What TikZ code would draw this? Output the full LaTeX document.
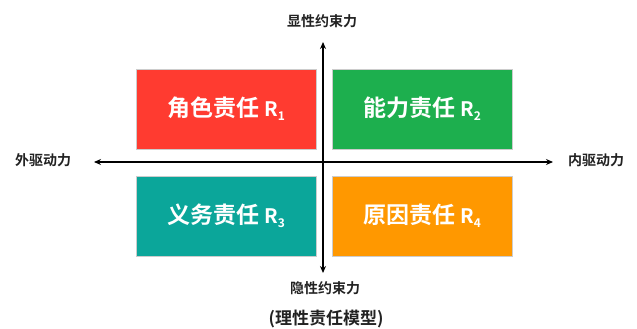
\documentclass[tikz,border=0pt]{standalone}
\usepackage{fontspec}
\usetikzlibrary{arrows.meta}
\newfontfamily\cjk{Noto Sans CJK SC}
\newfontfamily\cjkb{Noto Sans CJK SC Bold}
\definecolor{cred}{HTML}{FF3B30}
\definecolor{cgreen}{HTML}{1DAF4E}
\definecolor{cteal}{HTML}{0BA69A}
\definecolor{corange}{HTML}{FF9800}
\definecolor{ctext}{HTML}{222222}
\newcommand{\rsub}[1]{\raisebox{-0.3ex}{\fontsize{12}{13}\selectfont #1}}
\begin{document}
\begin{tikzpicture}[x=1pt,y=-1pt,
  quad/.style={draw=black!20,line width=0.6pt,minimum width=180pt,minimum height=80pt,inner sep=0pt,text=white,font=\cjkb\fontsize{23}{25}\selectfont},
  axlabel/.style={text=ctext,font=\cjkb\fontsize{14}{16}\selectfont,inner sep=0pt},
  axis/.style={line width=1.2pt,-{Stealth[length=7pt,width=6pt]}}]
\useasboundingbox (0,0) rectangle (637,329);
\fill[white] (0,0) rectangle (637,329);
\coordinate (o) at (323,162);
\coordinate (top) at (323,42);
\coordinate (bot) at (323,273);
\coordinate (lft) at (94,162);
\coordinate (rgt) at (553,162);
\draw[axis] (o) -- (top);
\draw[axis] (o) -- (bot);
\draw[axis] (o) -- (lft);
\draw[axis] (o) -- (rgt);
\node[quad,fill=cred] (r1) at (226,109) {角色责任 {\fontsize{20}{22}\selectfont R}\rsub{1}};
\node[quad,fill=cgreen] (r2) at (422,109) {能力责任 {\fontsize{20}{22}\selectfont R}\rsub{2}};
\node[quad,fill=cteal] (r3) at (226,216) {义务责任 {\fontsize{20}{22}\selectfont R}\rsub{3}};
\node[quad,fill=corange] (r4) at (422,216) {原因责任 {\fontsize{20}{22}\selectfont R}\rsub{4}};
\node[axlabel] (t) at (322,21) {显性约束力};
\node[axlabel] (b) at (325,288) {隐性约束力};
\node[axlabel] (l) at (43,160) {外驱动力};
\node[axlabel] (r) at (596,160) {内驱动力};
\node[text=ctext,font=\cjkb\fontsize{17}{19}\selectfont,inner sep=0pt] (cap) at (326,319) {(理性责任模型)};
\end{tikzpicture}
\end{document}
